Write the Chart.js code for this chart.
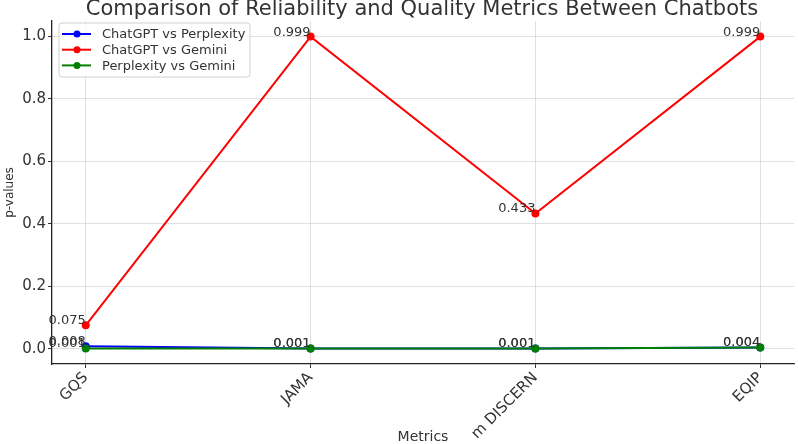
<!DOCTYPE html>
<html>
<head>
<meta charset="utf-8">
<script src="https://cdn.jsdelivr.net/npm/chart.js@4.4.1/dist/chart.umd.min.js"></script>
<style>
  html, body { margin: 0; padding: 0; background: #fff; }
  #chart { display: block; }
</style>
</head>
<body>
<canvas id="chart" width="798" height="444"></canvas>
<script>
// Data
const metrics = ['GQS', 'JAMA', 'm DISCERN', 'EQIP'];
const chatgptVsPerplexity = [0.008, 0.001, 0.001, 0.004];
const chatgptVsGemini = [0.075, 0.999, 0.433, 0.999];
const perplexityVsGemini = [0.001, 0.001, 0.001, 0.004];
const yTicks = [0.0, 0.2, 0.4, 0.6, 0.8, 1.0];
const xTicks = [0, 1, 2, 3];

const FONT = 'DejaVu Sans';
const TEXT = '#333';

function toPoints(values) {
    return values.map((v, i) => ({ x: i, y: v }));
}

const series = [
    { label: 'ChatGPT vs Perplexity', values: chatgptVsPerplexity, color: '#0000ff', order: 2 },
    { label: 'ChatGPT vs Gemini', values: chatgptVsGemini, color: '#ff0000', order: 1 },
    { label: 'Perplexity vs Gemini', values: perplexityVsGemini, color: '#008000', order: 0 }
];

// Title drawn partly above the canvas edge, like the cropped original
const titlePlugin = {
    id: 'topTitle',
    afterDraw(chart) {
        const { ctx, chartArea } = chart;
        ctx.save();
        ctx.font = '21px "' + FONT + '"';
        ctx.fillStyle = TEXT;
        ctx.textAlign = 'center';
        ctx.textBaseline = 'alphabetic';
        ctx.fillText('Comparison of Reliability and Quality Metrics Between Chatbots',
            (chartArea.left + chartArea.right) / 2 - 1, 15);
        ctx.restore();
    }
};

// Value labels next to every point
const valueLabels = {
    id: 'valueLabels',
    afterDatasetsDraw(chart) {
        const { ctx } = chart;
        ctx.save();
        ctx.font = '13px "' + FONT + '"';
        ctx.fillStyle = TEXT;
        ctx.textAlign = 'right';
        ctx.textBaseline = 'alphabetic';
        chart.data.datasets.forEach((ds, i) => {
            const meta = chart.getDatasetMeta(i);
            meta.data.forEach((pt, j) => {
                ctx.fillText(ds.data[j].y.toFixed(3), pt.x, pt.y - 1);
            });
        });
        ctx.restore();
    }
};

// Legend box inside the plot, upper left
const innerLegend = {
    id: 'innerLegend',
    afterDraw(chart) {
        const { ctx, chartArea } = chart;
        const x0 = chartArea.left + 7;
        const y0 = chartArea.top + 2;
        const w = 191, h = 54;
        ctx.save();
        ctx.fillStyle = 'rgba(255,255,255,0.85)';
        ctx.strokeStyle = '#d0d0d0';
        ctx.lineWidth = 1;
        ctx.beginPath();
        ctx.roundRect(x0, y0, w, h, 3);
        ctx.fill();
        ctx.stroke();
        ctx.font = '13px "' + FONT + '"';
        ctx.textBaseline = 'middle';
        ctx.textAlign = 'left';
        series.forEach((s, i) => {
            const y = y0 + 11 + i * 15.7;
            ctx.strokeStyle = s.color;
            ctx.lineWidth = 2;
            ctx.beginPath();
            ctx.moveTo(x0 + 3, y);
            ctx.lineTo(x0 + 32, y);
            ctx.stroke();
            ctx.fillStyle = s.color;
            ctx.beginPath();
            ctx.arc(x0 + 18, y, 3.5, 0, Math.PI * 2);
            ctx.fill();
            ctx.fillStyle = TEXT;
            ctx.fillText(s.label, x0 + 43, y + 1);
        });
        ctx.restore();
    }
};

const gridStyle = {
    color: 'rgba(190,190,190,0.6)',
    lineWidth: 0.8,
    borderDash: [3, 2],
    tickLength: 4,
    tickColor: '#333',
    tickBorderDash: [],
    tickWidth: 1
};

new Chart(document.getElementById('chart'), {
    type: 'line',
    data: {
        datasets: series.map(s => ({
            label: s.label,
            data: toPoints(s.values),
            borderColor: s.color,
            backgroundColor: s.color,
            pointBackgroundColor: s.color,
            pointBorderWidth: 0,
            pointRadius: 4,
            borderWidth: 2,
            tension: 0,
            order: s.order
        }))
    },
    options: {
        responsive: false,
        animation: false,
        layout: { padding: { top: 21, right: 1, left: 0, bottom: 0 } },
        plugins: {
            legend: { display: false },
            title: { display: false },
            tooltip: { enabled: false }
        },
        scales: {
            x: {
                type: 'linear',
                min: -0.15,
                max: 3.15,
                afterBuildTicks: scale => { scale.ticks = xTicks.map(v => ({ value: v })); },
                afterFit: scale => { scale.height = 80; },
                ticks: {
                    autoSkip: false,
                    minRotation: 45,
                    maxRotation: 45,
                    padding: 1,
                    color: TEXT,
                    font: { family: FONT, size: 15 },
                    callback: v => metrics[v]
                },
                grid: gridStyle,
                border: { display: true, color: '#222', width: 1.3 },
                title: {
                    display: true,
                    text: 'Metrics',
                    color: TEXT,
                    font: { family: FONT, size: 14, lineHeight: 1 },
                    padding: { top: 0, bottom: 0 }
                }
            },
            y: {
                min: -0.049,
                max: 1.049,
                afterBuildTicks: scale => { scale.ticks = yTicks.map(v => ({ value: v })); },
                afterFit: scale => { scale.width = 52; },
                ticks: {
                    padding: 2,
                    color: TEXT,
                    font: { family: FONT, size: 15 },
                    callback: v => Number(v).toFixed(1)
                },
                grid: gridStyle,
                border: { display: true, color: '#222', width: 1.3 },
                title: {
                    display: true,
                    text: 'p-values',
                    color: TEXT,
                    font: { family: FONT, size: 12, lineHeight: 1 },
                    padding: { top: 4, bottom: 0 }
                }
            }
        }
    },
    plugins: [valueLabels, innerLegend, titlePlugin]
});
</script>
</body>
</html>
